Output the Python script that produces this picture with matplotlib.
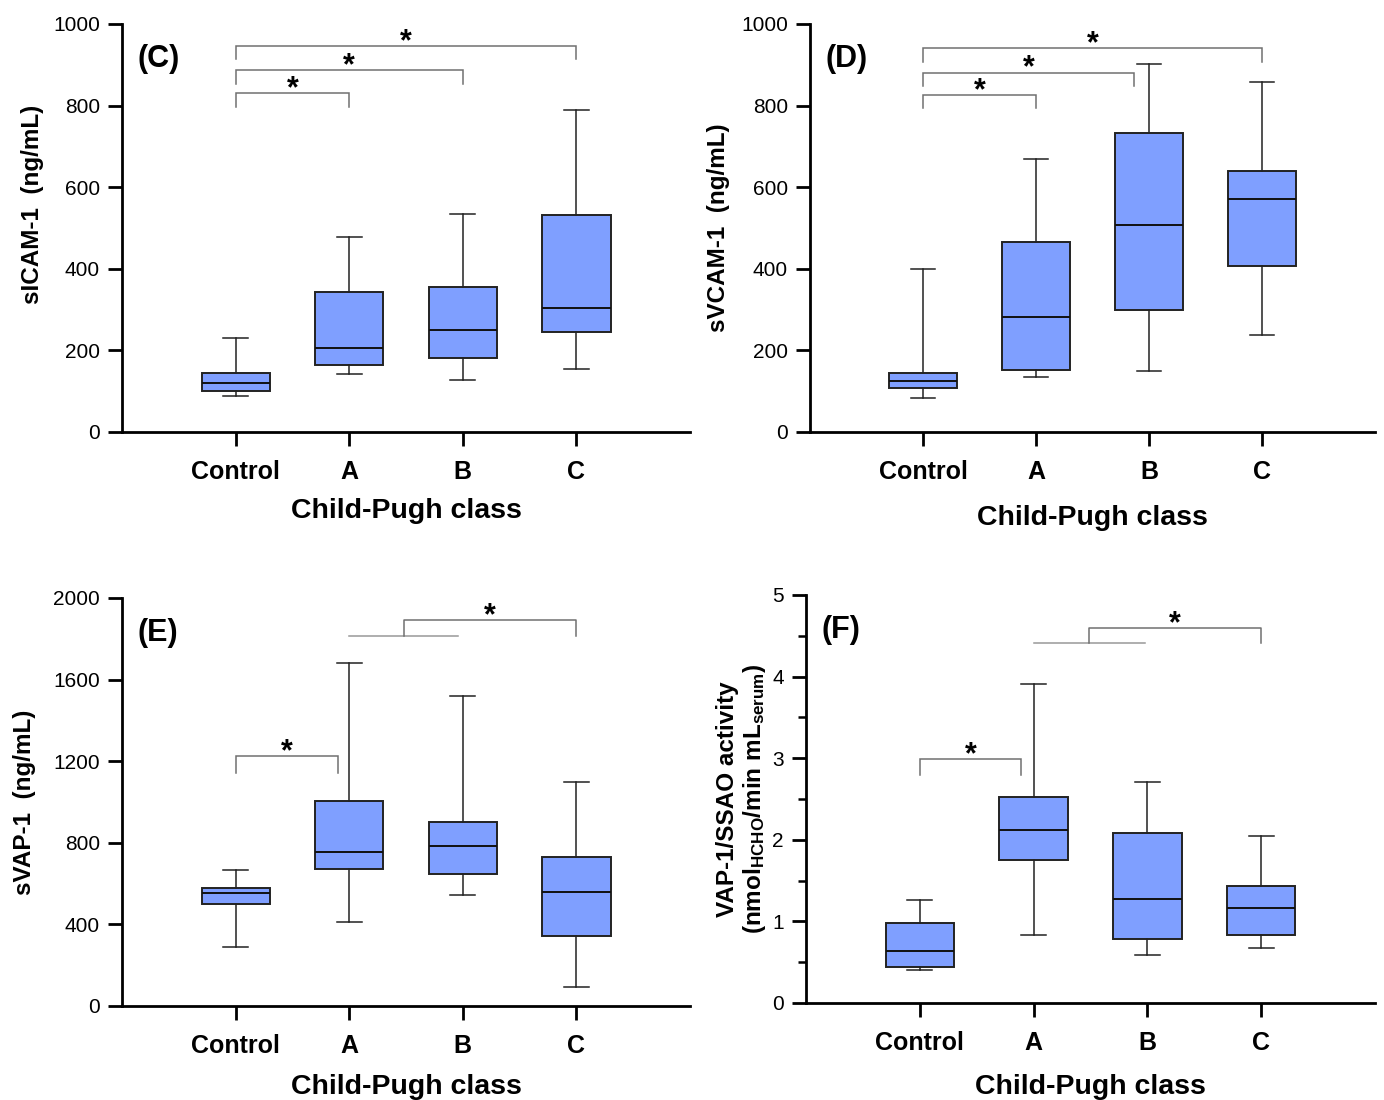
import matplotlib
matplotlib.use("Agg")
import matplotlib.pyplot as plt
from matplotlib.ticker import MultipleLocator

plt.rcParams['font.family'] = ['Liberation Sans', 'DejaVu Sans']
plt.rcParams['mathtext.fontset'] = 'custom'
plt.rcParams['mathtext.rm'] = 'Liberation Sans'
plt.rcParams['mathtext.bf'] = 'Liberation Sans:bold'
plt.rcParams['mathtext.it'] = 'Liberation Sans:italic'

categories = ["Control", "A", "B", "C"]
xlabel_text = "Child-Pugh class"

# Panel C: sICAM-1
c_whislo = [89, 142, 127, 154]
c_q1 = [101, 163, 181, 246]
c_med = [119, 207, 249, 303]
c_q3 = [145, 344, 355, 533]
c_whishi = [230, 479, 535, 789]

# Panel D: sVCAM-1
d_whislo = [83, 135, 150, 237]
d_q1 = [107, 152, 299, 407]
d_med = [125, 282, 508, 570]
d_q3 = [145, 465, 733, 640]
d_whishi = [400, 668, 901, 857]

# Panel E: sVAP-1
e_whislo = [290, 411, 542, 91]
e_q1 = [499, 673, 648, 344]
e_med = [552, 753, 786, 557]
e_q3 = [579, 1007, 903, 730]
e_whishi = [665, 1679, 1521, 1097]

# Panel F: VAP-1/SSAO activity
f_whislo = [0.40, 0.83, 0.585, 0.67]
f_q1 = [0.44, 1.75, 0.78, 0.83]
f_med = [0.64, 2.12, 1.28, 1.16]
f_q3 = [0.98, 2.53, 2.08, 1.43]
f_whishi = [1.26, 3.91, 2.71, 2.05]

# Significance brackets: (left pos, right pos, top value, leg bottom value)
c_brackets = [(0, 1, 830, 797), (0, 2, 886, 854), (0, 3, 946, 913)]
d_brackets = [(0, 1, 826, 793), (0, 1.87, 881, 848), (0, 3, 940, 907)]
e_pair = (0, 0.9, 1224, 1144)
f_pair = (0, 0.89, 2.99, 2.80)
# group bracket: (group line left, group line right, group line value, top value, target pos)
e_group = (1.0, 1.96, 1812, 1892, 3.0)
f_group = (1.0, 1.98, 4.41, 4.60, 3.0)

fig = plt.figure(figsize=(13.84, 11.0), dpi=100)

BOX_COLOR = "#7F9FFF"
BR_COLOR = "#707070"


def make_stats(lo, q1, med, q3, hi):
    return [dict(whislo=a, q1=b, med=c, q3=d, whishi=e, fliers=[])
            for a, b, c, d, e in zip(lo, q1, med, q3, hi)]


def setup(ax, stats, ymax, ystep, ylabel, letter, minor=None, ylabel_x=-0.155,
          ylabel_y=0.5, xlabel_pad=10):
    ax.bxp(stats, positions=range(len(categories)), widths=0.6, patch_artist=True,
           showfliers=False,
           boxprops=dict(facecolor=BOX_COLOR, edgecolor="#222222", linewidth=1.4),
           medianprops=dict(color="#111111", linewidth=1.4),
           whiskerprops=dict(color="#222222", linewidth=1.1),
           capprops=dict(color="#222222", linewidth=1.1),
           capwidths=0.22)
    ax.set_xlim(-1, 4)
    ax.set_ylim(0, ymax)
    ax.spines['top'].set_visible(False)
    ax.spines['right'].set_visible(False)
    for s in ('left', 'bottom'):
        ax.spines[s].set_linewidth(2.0)
    ax.yaxis.set_major_locator(MultipleLocator(ystep))
    if minor:
        ax.yaxis.set_minor_locator(MultipleLocator(minor))
        ax.tick_params(axis='y', which='minor', length=6, width=1.8, direction='out')
    ax.set_xticks(range(len(categories)))
    ax.set_xticklabels(categories, fontsize=18, fontweight='bold')
    ax.tick_params(axis='x', which='major', length=10, width=2.0, direction='out', pad=10)
    ax.tick_params(axis='y', which='major', length=10, width=2.0, direction='out',
                   labelsize=15, pad=6)
    ax.set_xlabel(xlabel_text, fontsize=20.5, fontweight='bold', labelpad=xlabel_pad)
    ax.set_ylabel(ylabel, fontsize=17.5, fontweight='bold')
    ax.yaxis.set_label_coords(ylabel_x, ylabel_y)
    ax.text(0.028, 0.915, letter, transform=ax.transAxes, fontsize=22,
            fontweight='bold', va='center', ha='left')


def star(ax, x, y):
    ax.annotate("*", xy=(x, y), xytext=(0, -3), textcoords='offset points',
                ha='center', va='baseline', fontsize=22, fontweight='bold')


def bracket(ax, x0, x1, ytop, ybot):
    ax.plot([x0, x0, x1, x1], [ybot, ytop, ytop, ybot], color=BR_COLOR, lw=1.1,
            solid_joinstyle='miter')
    star(ax, (x0 + x1) / 2, ytop)


def group_bracket(ax, gl, gr, gy, ytop, target):
    mid = (gl + gr) / 2
    ax.plot([gl, gr], [gy, gy], color="#999999", lw=1.1)
    ax.plot([mid, mid, target, target], [gy, ytop, ytop, gy], color=BR_COLOR, lw=1.1)
    star(ax, (mid + target) / 2, ytop)


# Panel C
axC = fig.add_axes([0.0882, 0.6073, 0.4104, 0.3709])
setup(axC, make_stats(c_whislo, c_q1, c_med, c_q3, c_whishi), 1000, 200,
      "sICAM-1  (ng/mL)", "(C)", ylabel_x=-0.137, ylabel_y=0.559, xlabel_pad=10)
for b in c_brackets:
    bracket(axC, *b)

# Panel D
axD = fig.add_axes([0.5853, 0.6073, 0.4082, 0.3709])
setup(axD, make_stats(d_whislo, d_q1, d_med, d_q3, d_whishi), 1000, 200,
      "sVCAM-1  (ng/mL)", "(D)", ylabel_x=-0.142, xlabel_pad=15)
for b in d_brackets:
    bracket(axD, *b)

# Panel E
axE = fig.add_axes([0.0882, 0.0855, 0.4104, 0.3709])
setup(axE, make_stats(e_whislo, e_q1, e_med, e_q3, e_whishi), 2000, 400,
      "sVAP-1  (ng/mL)", "(E)", ylabel_x=-0.151, xlabel_pad=11.5)
bracket(axE, *e_pair)
group_bracket(axE, *e_group)

# Panel F
axF = fig.add_axes([0.5824, 0.0882, 0.4111, 0.3709])
setup(axF, make_stats(f_whislo, f_q1, f_med, f_q3, f_whishi), 5, 1,
      "VAP-1/SSAO activity\n(nmol$_{\\mathbf{HCHO}}$/min mL$_{\\mathbf{serum}}$)", "(F)",
      minor=0.5, ylabel_x=-0.067, xlabel_pad=14)
axF.yaxis.label.set_linespacing(1.1)
bracket(axF, *f_pair)
group_bracket(axF, *f_group)

fig.savefig("out.png", dpi=100)
